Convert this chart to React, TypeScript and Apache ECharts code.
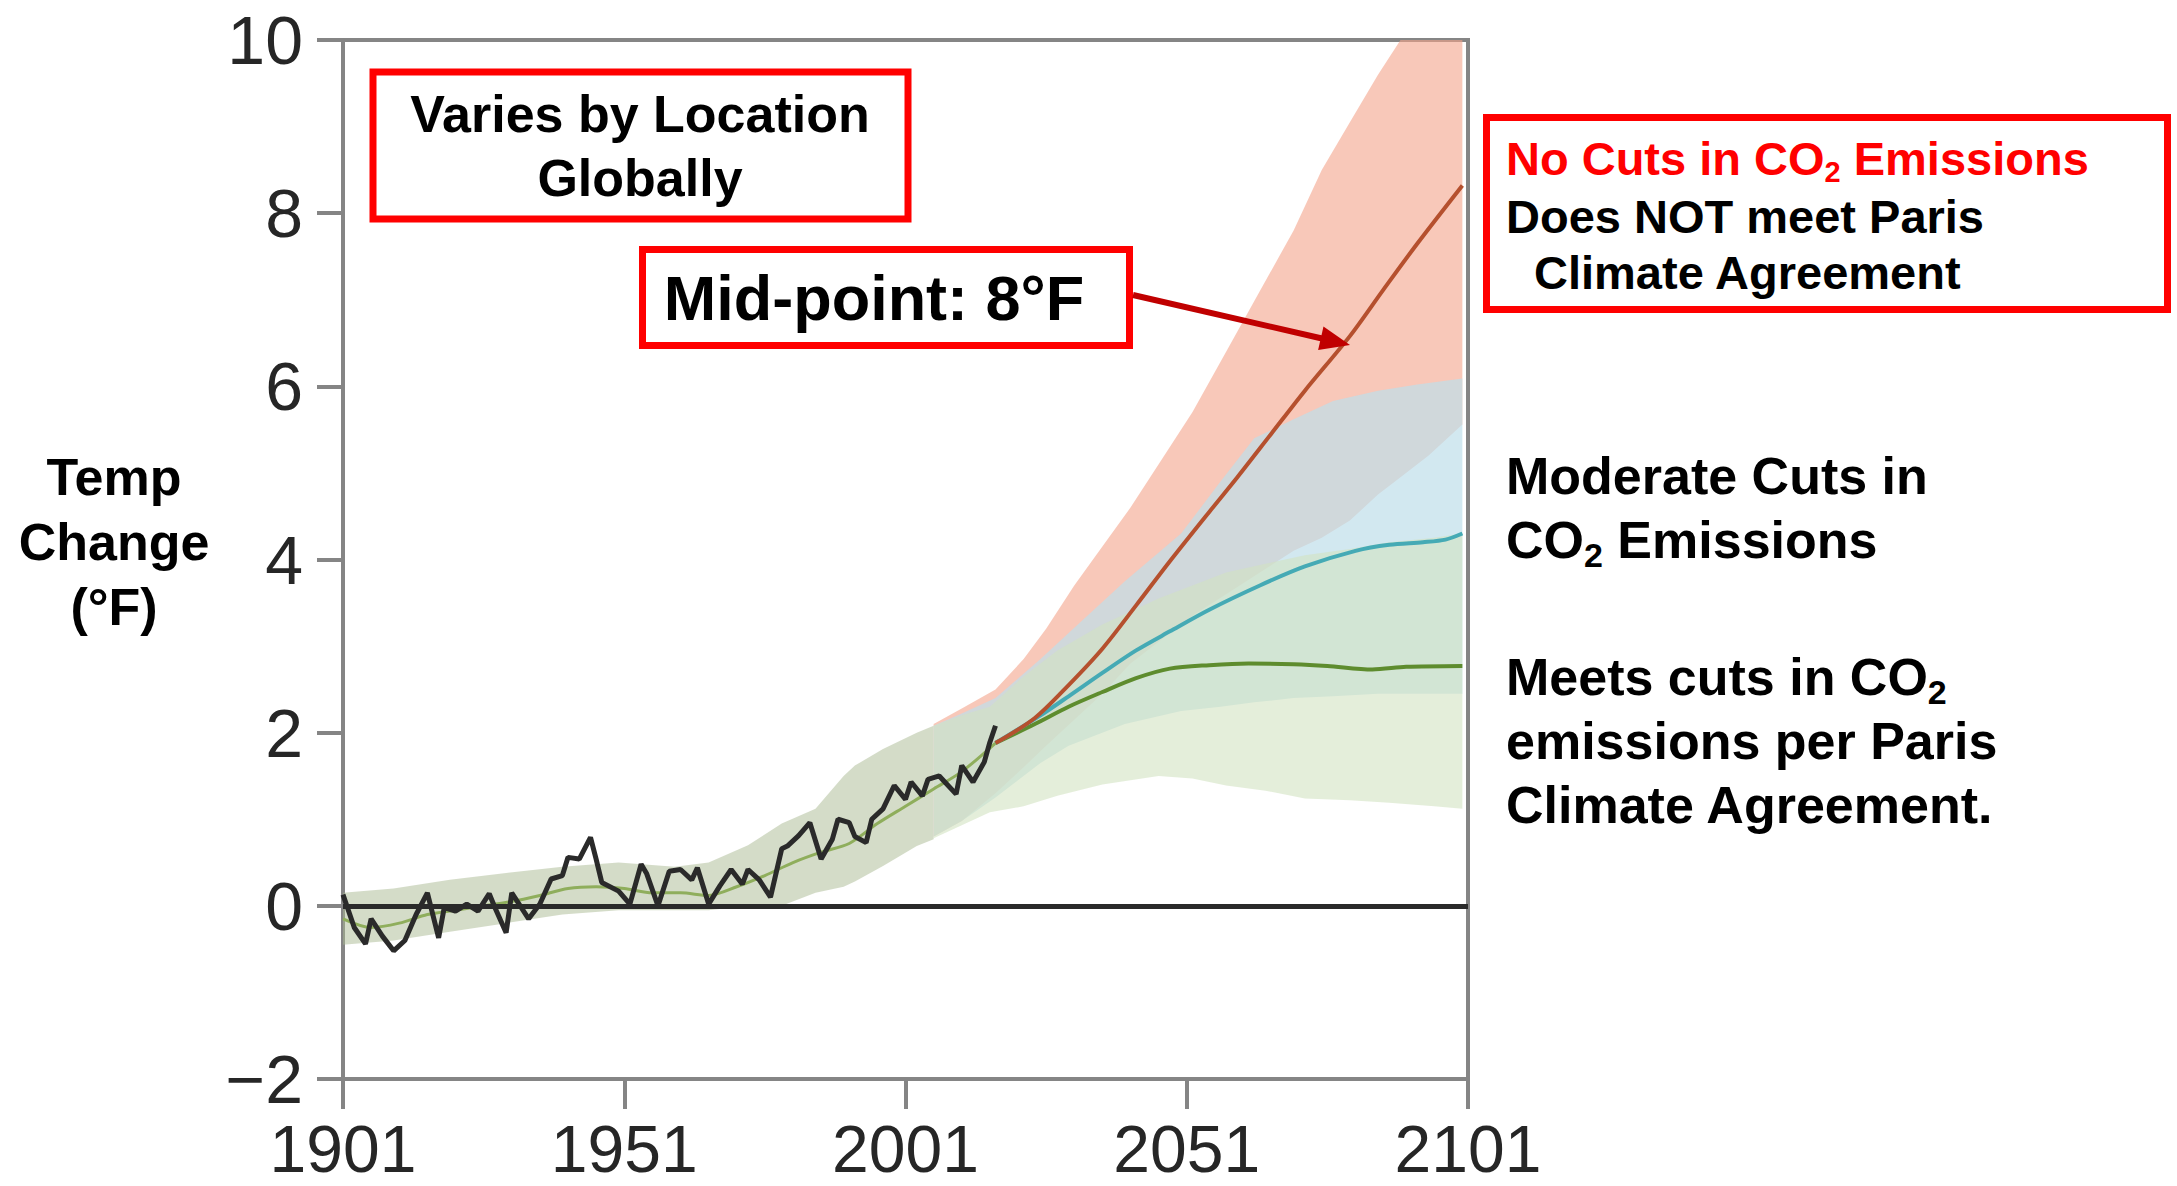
import React, { useEffect, useRef } from "react";
import * as echarts from "echarts";

const FONT = '"Liberation Sans", Arial, Helvetica, sans-serif';

// ---- axis ticks ----
const xTickYears = [1901, 1951, 2001, 2051, 2101];
const yMin = -2;
const yMax = 10;
const yStep = 2;

// ---- observed temperature change (°F) [year, value] ----
const observed: number[][] = [
  [1901, 0.13], [1903, -0.25], [1905, -0.44], [1906, -0.15], [1908, -0.35], [1910, -0.52],
  [1912, -0.4], [1914, -0.1], [1916, 0.15], [1918, -0.37], [1919, -0.02], [1921, -0.06],
  [1923, 0.02], [1925, -0.06], [1927, 0.14], [1928, -0.02], [1930, -0.31], [1931, 0.15],
  [1934, -0.15], [1936, 0.02], [1938, 0.31], [1940, 0.35], [1941, 0.56], [1943, 0.54],
  [1945, 0.79], [1946, 0.54], [1947, 0.27], [1950, 0.17], [1952, 0.02], [1954, 0.48],
  [1955, 0.37], [1957, 0.0], [1959, 0.4], [1961, 0.42], [1963, 0.3], [1964, 0.44],
  [1966, 0.02], [1968, 0.23], [1970, 0.42], [1972, 0.25], [1973, 0.42], [1975, 0.3],
  [1977, 0.1], [1979, 0.66], [1980, 0.69], [1982, 0.81], [1984, 0.96], [1986, 0.54],
  [1988, 0.77], [1989, 1.0], [1991, 0.96], [1992, 0.8], [1994, 0.73], [1995, 1.0],
  [1997, 1.12], [1999, 1.39], [2001, 1.23], [2002, 1.43], [2004, 1.27], [2005, 1.46],
  [2007, 1.5], [2010, 1.29], [2011, 1.62], [2013, 1.43], [2015, 1.66], [2016, 1.89],
  [2017, 2.08],
];

// ---- historical model mean [year, value] ----
const historicalMean: number[][] = [
  [1901, -0.15], [1906, -0.25], [1911, -0.2], [1916, -0.1], [1921, -0.05], [1926, 0.0],
  [1931, 0.05], [1936, 0.12], [1941, 0.2], [1946, 0.22], [1951, 0.2], [1956, 0.15],
  [1961, 0.15], [1966, 0.12], [1971, 0.22], [1976, 0.35], [1981, 0.5], [1986, 0.62],
  [1991, 0.72], [1996, 0.95], [2001, 1.15], [2006, 1.35], [2011, 1.55], [2017, 1.88],
];

// ---- historical model range [year, low, high] ----
const historicalBand: number[][] = [
  [1901, -0.45, 0.15], [1910, -0.4, 0.2], [1920, -0.3, 0.3], [1930, -0.2, 0.38],
  [1940, -0.1, 0.45], [1950, -0.05, 0.5], [1960, -0.05, 0.45], [1966, -0.05, 0.5],
  [1973, 0.0, 0.7], [1979, 0.0, 0.95], [1985, 0.15, 1.12], [1990, 0.22, 1.5],
  [1992, 0.28, 1.62], [1997, 0.46, 1.81], [2003, 0.69, 2.0], [2006, 0.77, 2.08],
];

// ---- No cuts in CO2 emissions ----
const noCutsMean: number[][] = [
  [2017, 1.88], [2024, 2.17], [2030, 2.55], [2036, 2.97], [2042, 3.47], [2048, 3.98],
  [2055, 4.55], [2060, 4.95], [2066, 5.45], [2072, 5.95], [2080, 6.58], [2086, 7.12],
  [2092, 7.65], [2100, 8.32],
];
const noCutsBand: number[][] = [
  [2006, 0.8, 2.1], [2011, 0.98, 2.28], [2017, 1.3, 2.5], [2022, 1.6, 2.85],
  [2026, 1.85, 3.2], [2031, 2.15, 3.7], [2036, 2.45, 4.15], [2041, 2.8, 4.6],
  [2046, 3.05, 5.1], [2052, 3.35, 5.7], [2058, 3.6, 6.4], [2064, 3.85, 7.1],
  [2070, 4.1, 7.8], [2075, 4.25, 8.5], [2080, 4.45, 9.05], [2085, 4.75, 9.6],
  [2089, 4.95, 10.0], [2094, 5.2, 10.5], [2100, 5.56, 11.0],
];

// ---- Moderate cuts in CO2 emissions ----
const moderateMean: number[][] = [
  [2017, 1.88], [2025, 2.2], [2030, 2.42], [2036, 2.69], [2042, 2.95], [2048, 3.17],
  [2055, 3.42], [2064, 3.7], [2072, 3.92], [2081, 4.1], [2087, 4.17], [2093, 4.2],
  [2097, 4.23], [2100, 4.3],
];
const moderateBand: number[][] = [
  [2006, 0.8, 2.08], [2011, 0.98, 2.22], [2017, 1.25, 2.4], [2025, 1.65, 2.85],
  [2030, 1.85, 3.15], [2040, 2.1, 3.75], [2050, 2.25, 4.3], [2057, 2.3, 4.9],
  [2063, 2.35, 5.4], [2070, 2.4, 5.62], [2077, 2.42, 5.83], [2085, 2.45, 5.95],
  [2092, 2.45, 6.02], [2100, 2.45, 6.09],
];

// ---- Paris agreement cuts ----
const parisMean: number[][] = [
  [2017, 1.88], [2024, 2.1], [2030, 2.3], [2036, 2.47], [2042, 2.63], [2048, 2.74],
  [2055, 2.78], [2062, 2.8], [2070, 2.79], [2076, 2.77], [2084, 2.73], [2090, 2.76],
  [2100, 2.77],
];
const parisBand: number[][] = [
  [2006, 0.78, 2.08], [2011, 0.93, 2.2], [2016, 1.08, 2.3], [2022, 1.15, 2.65],
  [2028, 1.27, 2.95], [2036, 1.4, 3.25], [2046, 1.5, 3.55], [2052, 1.47, 3.7],
  [2058, 1.39, 3.85], [2065, 1.33, 3.95], [2072, 1.24, 4.05], [2080, 1.22, 4.12],
  [2087, 1.19, 4.2], [2095, 1.15, 4.25], [2100, 1.12, 4.3],
];

function bandSeries(name: string, band: number[][], color: string) {
  return {
    type: "custom",
    name,
    data: band,
    silent: true,
    clip: true,
    z: 1,
    encode: { x: 0, y: [1, 2] },
    renderItem: (params: any, api: any) => {
      if (params.dataIndex !== 0) return null;
      const cs = params.coordSys;
      const top = cs.y;
      const bottom = cs.y + cs.height;
      const upper = band.map((r) => api.coord([r[0], r[2]]));
      const lower = band.map((r) => api.coord([r[0], r[1]])).reverse();
      const pts = upper
        .concat(lower)
        .map((p: number[]) => [p[0], Math.min(Math.max(p[1], top), bottom)]);
      return { type: "polygon", shape: { points: pts }, style: { fill: color } };
    },
  };
}

function lineSeries(name: string, data: number[][], color: string, width: number, z: number, smooth: number | boolean) {
  return {
    type: "line",
    name,
    data,
    symbol: "none",
    showSymbol: false,
    silent: true,
    smooth,
    lineStyle: { color, width },
    z,
  };
}

export default function App() {
  const ref = useRef<HTMLDivElement>(null);

  useEffect(() => {
    if (!ref.current) return;
    const chart = echarts.init(ref.current, undefined, { renderer: "svg" });

    const boldText = (size: number, fill: string, lineHeight: number) => ({
      fontSize: size,
      fontWeight: "bold",
      fontFamily: FONT,
      fill,
      lineHeight,
    });

    const option: any = {
      animation: false,
      backgroundColor: "#ffffff",
      grid: {
        left: 343,
        right: 709,
        top: 40,
        bottom: 107,
        show: true,
        borderColor: "#858585",
        borderWidth: 4,
        backgroundColor: "transparent",
        containLabel: false,
        outerBoundsMode: "none",
      },
      xAxis: {
        type: "value",
        min: 1901,
        max: 2101,
        axisLine: { show: true, onZero: false, lineStyle: { color: "#858585", width: 4 } },
        axisTick: {
          show: true,
          length: 30,
          customValues: xTickYears,
          lineStyle: { color: "#858585", width: 4 },
        },
        axisLabel: {
          customValues: xTickYears,
          margin: 37,
          fontSize: 66,
          fontFamily: FONT,
          color: "#262626",
          formatter: (v: number) => String(v),
        },
        splitLine: { show: false },
      },
      yAxis: {
        type: "value",
        min: yMin,
        max: yMax,
        interval: yStep,
        axisLine: { show: true, onZero: false, lineStyle: { color: "#858585", width: 4 } },
        axisTick: { show: true, length: 26, lineStyle: { color: "#858585", width: 4 } },
        axisLabel: {
          margin: 40,
          fontSize: 68,
          fontFamily: FONT,
          color: "#262626",
          formatter: (v: number) => (v < 0 ? "\u2212" + Math.abs(v) : String(v)),
        },
        splitLine: { show: false },
      },
      series: [
        bandSeries("Historical range", historicalBand, "rgba(169,185,145,0.5)"),
        bandSeries("No cuts range", noCutsBand, "rgba(243,163,138,0.6)"),
        bandSeries("Moderate range", moderateBand, "rgba(191,222,234,0.7)"),
        bandSeries("Paris range", parisBand, "rgba(210,227,193,0.6)"),
        lineSeries("Historical model", historicalMean, "#8fae5c", 3, 2, 0.3),
        lineSeries("Meets Paris cuts", parisMean, "#5e8c2e", 4, 3, 0.3),
        lineSeries("Moderate cuts", moderateMean, "#45aab5", 4, 3, 0.3),
        lineSeries("No cuts", noCutsMean, "#b5502e", 4, 3, 0.3),
        {
          ...lineSeries("Observed", observed, "#2a2a2a", 5, 4, false),
          markLine: {
            silent: true,
            symbol: ["none", "none"],
            label: { show: false },
            lineStyle: { color: "#2a2a2a", width: 5, type: "solid" },
            data: [{ yAxis: 0 }],
          },
        },
      ],
      graphic: [
        {
          type: "text",
          x: 114,
          y: 542,
          z: 100,
          style: {
            text: "Temp\nChange\n(°F)",
            ...boldText(52, "#000000", 65),
            align: "center",
            verticalAlign: "middle",
            textAlign: "center",
            textVerticalAlign: "middle",
          },
        },
        {
          type: "rect",
          z: 90,
          shape: { x: 373, y: 72, width: 535, height: 147 },
          style: { fill: "#ffffff", stroke: "#ff0000", lineWidth: 7 },
        },
        {
          type: "text",
          x: 640,
          y: 145.5,
          z: 100,
          style: {
            text: "Varies by Location\nGlobally",
            ...boldText(52, "#000000", 64),
            align: "center",
            verticalAlign: "middle",
            textAlign: "center",
            textVerticalAlign: "middle",
          },
        },
        {
          type: "rect",
          z: 90,
          shape: { x: 642.5, y: 249.5, width: 487, height: 96 },
          style: { fill: "#ffffff", stroke: "#ff0000", lineWidth: 7 },
        },
        {
          type: "text",
          x: 874,
          y: 297.5,
          z: 100,
          style: {
            text: "Mid-point: 8°F",
            ...boldText(63, "#000000", 70),
            align: "center",
            verticalAlign: "middle",
            textAlign: "center",
            textVerticalAlign: "middle",
          },
        },
        {
          type: "line",
          z: 95,
          shape: { x1: 1133, y1: 295, x2: 1322, y2: 338.5 },
          style: { stroke: "#c00000", lineWidth: 6 },
        },
        {
          type: "polygon",
          z: 95,
          shape: { points: [[1350, 345], [1318.1, 349.9], [1323.5, 326.5]] },
          style: { fill: "#c00000" },
        },
        {
          type: "rect",
          z: 90,
          shape: { x: 1486.5, y: 117.5, width: 681, height: 192 },
          style: { fill: "#ffffff", stroke: "#ff0000", lineWidth: 7 },
        },
        {
          type: "text",
          x: 1506,
          y: 158,
          z: 100,
          style: {
            text: "{r|No Cuts in CO}{s|2}{r| Emissions}",
            ...boldText(47, "#ff0000", 57),
            align: "left",
            verticalAlign: "middle",
            textAlign: "left",
            textVerticalAlign: "middle",
            rich: {
              r: { ...boldText(47, "#ff0000", 57) },
              s: { fontSize: 29, fontWeight: "bold", fontFamily: FONT, fill: "#ff0000", verticalAlign: "bottom" },
            },
          },
        },
        {
          type: "text",
          x: 1506,
          y: 216,
          z: 100,
          style: {
            text: "Does NOT meet Paris",
            ...boldText(47, "#000000", 57),
            align: "left",
            verticalAlign: "middle",
            textAlign: "left",
            textVerticalAlign: "middle",
          },
        },
        {
          type: "text",
          x: 1534,
          y: 272,
          z: 100,
          style: {
            text: "Climate Agreement",
            ...boldText(47, "#000000", 57),
            align: "left",
            verticalAlign: "middle",
            textAlign: "left",
            textVerticalAlign: "middle",
          },
        },
        {
          type: "text",
          x: 1506,
          y: 508,
          z: 100,
          style: {
            text: "{m|Moderate Cuts in}\n{m|CO}{s|2}{m| Emissions}",
            ...boldText(52, "#000000", 64),
            align: "left",
            verticalAlign: "middle",
            textAlign: "left",
            textVerticalAlign: "middle",
            rich: {
              m: { ...boldText(52, "#000000", 64) },
              s: { fontSize: 34, fontWeight: "bold", fontFamily: FONT, fill: "#000000", verticalAlign: "bottom" },
            },
          },
        },
        {
          type: "text",
          x: 1506,
          y: 741,
          z: 100,
          style: {
            text: "{m|Meets cuts in CO}{s|2}\n{m|emissions per Paris}\n{m|Climate Agreement.}",
            ...boldText(52, "#000000", 64),
            align: "left",
            verticalAlign: "middle",
            textAlign: "left",
            textVerticalAlign: "middle",
            rich: {
              m: { ...boldText(52, "#000000", 64) },
              s: { fontSize: 34, fontWeight: "bold", fontFamily: FONT, fill: "#000000", verticalAlign: "bottom" },
            },
          },
        },
      ],
    };

    chart.setOption(option);
    return () => {
      chart.dispose();
    };
  }, []);

  return (
    <div
      ref={ref}
      style={{ position: "fixed", left: 0, top: 0, width: "2177px", height: "1186px", background: "#ffffff" }}
    />
  );
}
